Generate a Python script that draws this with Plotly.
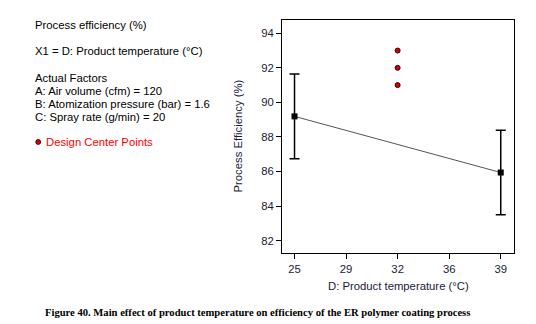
import plotly.graph_objects as go

# Main effect of product temperature (D) on process efficiency
temp_levels = [25, 39]
predicted_eff = [89.19, 85.94]
lsd_halfwidth = [2.45, 2.45]

# Design center points (replicates at D = 32 °C)
center_temp = [32, 32, 32]
center_eff = [93, 92, 91]

x_tickvals = [25, 28.5, 32, 35.5, 39]
x_ticktext = ["25", "29", "32", "36", "39"]
y_tickvals = [82, 84, 86, 88, 90, 92, 94]

W, H = 536, 324
L, R, T, B = 282, 514, 20, 253

def px(x):
    return (x - L) / (R - L)

def py(y):
    return (B - y) / (B - T)

FONT = "Liberation Sans, Arial, sans-serif"
TXT = 11.3

fig = go.Figure()

fig.add_trace(go.Scatter(
    x=temp_levels, y=predicted_eff, mode="lines",
    line=dict(color="#555555", width=1), hoverinfo="skip", showlegend=False,
))
fig.add_trace(go.Scatter(
    x=temp_levels, y=predicted_eff, mode="markers",
    marker=dict(symbol="square", size=6, color="black"),
    error_y=dict(type="data", array=lsd_halfwidth, color="black", thickness=1.5, width=5),
    showlegend=False,
))
fig.add_trace(go.Scatter(
    x=center_temp, y=center_eff, mode="markers",
    marker=dict(symbol="circle", size=5, color="#d40000", line=dict(color="#3a0000", width=1)),
    showlegend=False,
))

axis_common = dict(
    showline=True, linecolor="black", linewidth=1, mirror=True,
    ticks="outside", ticklen=5, tickcolor="black", tickwidth=1,
    showgrid=False, zeroline=False,
    tickfont=dict(family=FONT, size=TXT, color="#1a1a3a"),
)

fig.update_xaxes(range=[24.15, 39.9], tickvals=x_tickvals, ticktext=x_ticktext, **axis_common)
fig.update_yaxes(range=[81.28, 94.77], tickvals=y_tickvals, **axis_common)

annotations = []

def add_text(text, x, y, color="black", size=TXT, family=FONT, xanchor="left"):
    annotations.append(dict(
        text=text, x=px(x), y=py(y), xref="paper", yref="paper",
        xanchor=xanchor, yanchor="middle", showarrow=False,
        font=dict(family=family, size=size, color=color),
    ))

add_text("Process efficiency (%)", 33, 25)
add_text("X1 = D: Product temperature (°C)", 33, 51.5)
add_text("Actual Factors", 33, 78)
add_text("A: Air volume (cfm) = 120", 33, 91)
add_text("B: Atomization pressure (bar) = 1.6", 33, 104)
add_text("C: Spray rate (g/min) = 20", 33, 117)
add_text("Design Center Points", 44, 142, color="#ff0000")

# axis titles
annotations.append(dict(
    text="Process Efficiency (%)", x=px(237), y=py(136.5), xref="paper", yref="paper",
    textangle=-90, showarrow=False, xanchor="center", yanchor="middle",
    font=dict(family=FONT, size=TXT, color="#1a1a3a"),
))
add_text("D: Product temperature (°C)", 398, 285.5, color="#1a1a3a", xanchor="center")

# caption
add_text("<b>Figure 40. Main effect of product temperature on efficiency of the ER polymer coating process</b>",
         43, 313, family="Liberation Serif, Times New Roman, serif", size=10.6)

# legend symbol for the center points
shapes = [dict(
    type="circle", xref="paper", yref="paper",
    x0=px(35.8), x1=px(40.6), y0=py(144.4), y1=py(139.6),
    fillcolor="#d40000", line=dict(color="#3a0000", width=1),
)]

fig.update_layout(
    width=W, height=H,
    margin=dict(l=L, r=W - R, t=T, b=H - B),
    paper_bgcolor="white", plot_bgcolor="white",
    annotations=annotations, shapes=shapes,
)

fig.write_html("out.html")
